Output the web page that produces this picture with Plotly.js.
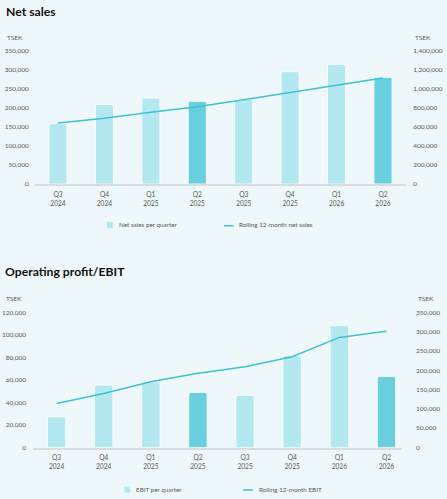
<!DOCTYPE html>
<html>
<head>
<meta charset="utf-8">
<script src="https://cdn.plot.ly/plotly-3.0.1.min.js"></script>
<style>
html,body{margin:0;padding:0;background:#eef8fa;}
#chart{width:447px;height:499px;}
</style>
</head>
<body>
<div id="chart"></div>
<script>
// ---- data ----
var quarters = ["Q3<br>2024","Q4<br>2024","Q1<br>2025","Q2<br>2025","Q3<br>2025","Q4<br>2025","Q1<br>2026","Q2<br>2026"];
var netSales = [159000, 209000, 225500, 217000, 222000, 295000, 314000, 280000];
var rollingNetSales = [641000, 690000, 753000, 812000, 886000, 963000, 1043000, 1113000];
var ebit = [27300, 55400, 58300, 48900, 46200, 81700, 108200, 63000];
var rollingEbit = [114000, 140000, 170000, 192000, 209000, 235000, 285000, 301000];

var leftTicks1 = [0,50000,100000,150000,200000,250000,300000,350000];
var rightTicks1 = [0,200000,400000,600000,800000,1000000,1200000,1400000];
var leftTicks2 = [0,20000,40000,60000,80000,100000,120000];
var rightTicks2 = [0,50000,100000,150000,200000,250000,300000,350000];

var titles = ["Net sales", "Operating profit/EBIT"];
var unitLabel = "TSEK";
var legendNames1 = ["Net sales per quarter", "Rolling 12-month net sales"];
var legendNames2 = ["EBIT per quarter", "Rolling 12-month EBIT"];

// ---- styles ----
var W = 447, H = 499;
var light = "#b3e8f1", dark = "#69cfdf", lineCol = "#40c0d3";
var txtCol = "#555a5c";
var fontFam = "Lato, 'Open Sans', sans-serif";
function barColors(){ return quarters.map(function(q){ return q.indexOf("Q2")===0 ? dark : light; }); }
function fmt(v){ return v.toLocaleString("en-US"); }
function px(x){ return x/W; }
function py(y){ return 1 - y/H; }

var traces = [
  {type:"bar", x:quarters, y:netSales, xaxis:"x", yaxis:"y", width:0.39,
   marker:{color:barColors(), cornerradius:2, line:{color:"rgba(255,255,255,0.85)", width:1}},
   name:legendNames1[0], showlegend:false},
  {type:"scatter", mode:"lines", x:quarters, y:rollingNetSales, xaxis:"x", yaxis:"y2",
   line:{color:lineCol, width:1.5}, name:legendNames1[1], showlegend:false},
  {type:"bar", x:quarters, y:ebit, xaxis:"x2", yaxis:"y3", width:0.39,
   marker:{color:barColors(), cornerradius:2, line:{color:"rgba(255,255,255,0.85)", width:1}},
   name:legendNames2[0], showlegend:false},
  {type:"scatter", mode:"lines", x:quarters, y:rollingEbit, xaxis:"x2", yaxis:"y4",
   line:{color:lineCol, width:1.5}, name:legendNames2[1], showlegend:false}
];

var tickFont = {family:fontFam, size:6.5, color:txtCol};
var legFont = {family:fontFam, size:6.3, color:txtCol};
function yax(domain, range, ticks, side, anchor, overlay, standoff){
  var a = {domain:domain, range:range, tickvals:ticks, ticktext:ticks.map(fmt),
    showgrid:false, zeroline:false, showline:false, ticks:"", tickfont:tickFont,
    side:side, anchor:anchor, fixedrange:true, ticklabelstandoff:standoff};
  if(overlay) a.overlaying = overlay;
  return a;
}
function xax(domain, range, anchor){
  return {domain:domain, range:range, anchor:anchor, type:"category",
    showgrid:false, zeroline:false, showline:true, linecolor:"#d9dddd", linewidth:2,
    ticks:"", tickfont:{family:fontFam, size:6.6, color:txtCol}, fixedrange:true, ticklabelstandoff:3};
}

var d1y = [py(184), py(50.7)];
var d2y = [py(447.5), py(312.3)];

var layout = {
  width:W, height:H, margin:{l:0,r:0,t:0,b:0},
  paper_bgcolor:"#eef8fa", plot_bgcolor:"rgba(0,0,0,0)",
  showlegend:false,
  xaxis: xax([px(34.8), px(406.2)], [-0.5, 7.5], "y"),
  yaxis: yax(d1y, [0,350000], leftTicks1, "left", "x", null, 5),
  yaxis2: yax(d1y, [0,1400000], rightTicks1, "right", "x", "y", 6),
  xaxis2: xax([px(33), px(402)], [-0.5, 7.33], "y3"),
  yaxis3: yax(d2y, [0,120000], leftTicks2, "left", "x2", null, 6),
  yaxis4: yax(d2y, [0,350000], rightTicks2, "right", "x2", "y3", 13),
  annotations: [
    {text:"<b>"+titles[0]+"</b>", xref:"paper", yref:"paper", x:px(4), y:py(11), xanchor:"left", yanchor:"middle", showarrow:false, font:{family:fontFam, size:12.2, color:"#111"}},
    {text:"<b>"+titles[1]+"</b>", xref:"paper", yref:"paper", x:px(3), y:py(271), xanchor:"left", yanchor:"middle", showarrow:false, font:{family:fontFam, size:12.2, color:"#111"}},
    {text:unitLabel, xref:"paper", yref:"paper", x:px(5), y:py(37.5), xanchor:"left", yanchor:"middle", showarrow:false, font:tickFont},
    {text:unitLabel, xref:"paper", yref:"paper", x:px(413), y:py(37.5), xanchor:"left", yanchor:"middle", showarrow:false, font:tickFont},
    {text:unitLabel, xref:"paper", yref:"paper", x:px(4), y:py(298.3), xanchor:"left", yanchor:"middle", showarrow:false, font:tickFont},
    {text:unitLabel, xref:"paper", yref:"paper", x:px(415.5), y:py(298.3), xanchor:"left", yanchor:"middle", showarrow:false, font:tickFont},
    {text:legendNames1[0], xref:"paper", yref:"paper", x:px(116.5), y:py(224.7), xanchor:"left", yanchor:"middle", showarrow:false, font:legFont},
    {text:legendNames1[1], xref:"paper", yref:"paper", x:px(237), y:py(224.7), xanchor:"left", yanchor:"middle", showarrow:false, font:legFont},
    {text:legendNames2[0], xref:"paper", yref:"paper", x:px(134), y:py(489.3), xanchor:"left", yanchor:"middle", showarrow:false, font:legFont},
    {text:legendNames2[1], xref:"paper", yref:"paper", x:px(256.5), y:py(489.3), xanchor:"left", yanchor:"middle", showarrow:false, font:legFont}
  ],
  shapes: [
    {type:"rect", xref:"paper", yref:"paper", x0:px(107), x1:px(113), y0:py(228.2), y1:py(222), fillcolor:light, line:{width:0}},
    {type:"line", xref:"paper", yref:"paper", x0:px(224), x1:px(233.5), y0:py(225.7), y1:py(225.7), line:{color:lineCol, width:1.5}},
    {type:"rect", xref:"paper", yref:"paper", x0:px(124.3), x1:px(130.3), y0:py(492.7), y1:py(486.5), fillcolor:light, line:{width:0}},
    {type:"line", xref:"paper", yref:"paper", x0:px(243), x1:px(253), y0:py(490), y1:py(490), line:{color:lineCol, width:1.5}}
  ]
};

Plotly.newPlot("chart", traces, layout, {displayModeBar:false, staticPlot:true});
</script>
</body>
</html>
